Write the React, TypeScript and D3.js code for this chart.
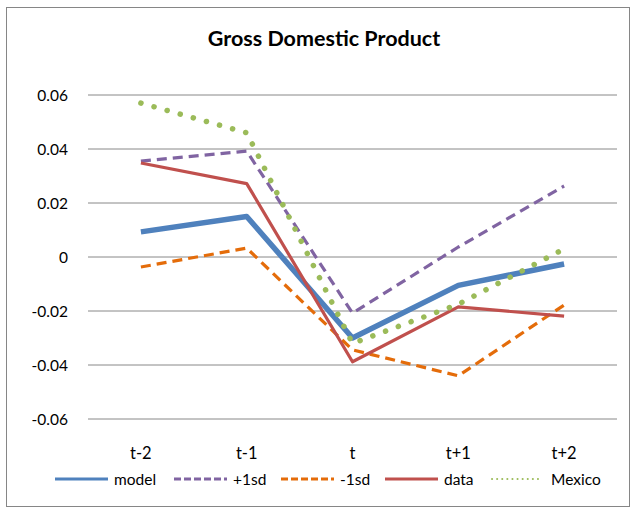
import React from "react";
import * as d3 from "d3";

// values
const periods = ["t-2", "t-1", "t", "t+1", "t+2"];
const model = [0.0093, 0.0150, -0.0300, -0.0105, -0.0026];
const plus1sd = [0.0355, 0.0392, -0.0208, 0.0037, 0.0263];
const minus1sd = [-0.0037, 0.0033, -0.0344, -0.0440, -0.0178];
const actual = [0.0348, 0.0272, -0.0388, -0.0185, -0.0219];
const mexico = [0.0570, 0.0460, -0.0320, -0.0175, 0.0030];
const yTicks = [0.06, 0.04, 0.02, 0, -0.02, -0.04, -0.06];

const series = [
  { name: "model", values: model, color: "#4F81BD", width: 5.5, dash: "" },
  { name: "+1sd", values: plus1sd, color: "#8064A2", width: 3.2, dash: "10,6" },
  { name: "-1sd", values: minus1sd, color: "#E46C0A", width: 3.2, dash: "10,6" },
  { name: "data", values: actual, color: "#C0504D", width: 3.2, dash: "" },
  { name: "Mexico", values: mexico, color: "#9BBB59", width: 5.5, dash: "0.1,13.5" },
];

const font = "Lato, 'Open Sans', sans-serif";

export default function App() {
  const x = d3.scaleBand().domain(periods).range([88, 617]);
  const y = d3.scaleLinear().domain([-0.06, 0.06]).range([419, 95]);
  const fmt = (v: number) => (v === 0 ? "0" : v.toFixed(2));

  const line = d3
    .line<number>()
    .x((_, i) => x(periods[i])! + x.bandwidth() / 2)
    .y((d) => y(d));

  const legendX = [55, 174, 281, 385, 492];

  return (
    <svg width={636} height={508} style={{ position: "absolute", left: 0, top: 0 }}>
      <rect x={6.5} y={7.5} width={623} height={499} fill="#fff" stroke="#868686" strokeWidth={1} />
      <text x={324} y={46} textAnchor="middle" fontFamily={font} fontWeight="bold" fontSize={21.5}>
        Gross Domestic Product
      </text>
      {yTicks.map((t) => (
        <g key={t}>
          <line x1={88} x2={617} y1={y(t)} y2={y(t)} stroke="#888" strokeWidth={1} />
          <text x={68} y={y(t)} dy="0.36em" textAnchor="end" fontFamily={font} fontSize={15.5}>
            {fmt(t)}
          </text>
        </g>
      ))}
      {periods.map((p) => (
        <text key={p} x={x(p)! + x.bandwidth() / 2} y={459} textAnchor="middle" fontFamily={font} fontSize={16.5}>
          {p}
        </text>
      ))}
      {series.map((s) => (
        <path
          key={s.name}
          d={line(s.values)!}
          fill="none"
          stroke={s.color}
          strokeWidth={s.width}
          strokeDasharray={s.dash || undefined}
          strokeLinecap={s.name === "Mexico" ? "round" : "butt"}
          strokeLinejoin="round"
        />
      ))}
      {series.map((s, i) => (
        <g key={s.name} transform={`translate(${legendX[i]},479)`}>
          <line
            x1={0}
            x2={s.name === "Mexico" ? 51 : 53}
            stroke={s.color}
            strokeWidth={s.name === "Mexico" ? 2 : 3}
            strokeDasharray={s.name === "Mexico" ? "0.1,5" : s.dash ? "7,3" : undefined}
            strokeLinecap={s.name === "Mexico" ? "round" : "butt"}
          />
          <text x={59} dy="0.36em" fontFamily={font} fontSize={15.5}>
            {s.name}
          </text>
        </g>
      ))}
    </svg>
  );
}
